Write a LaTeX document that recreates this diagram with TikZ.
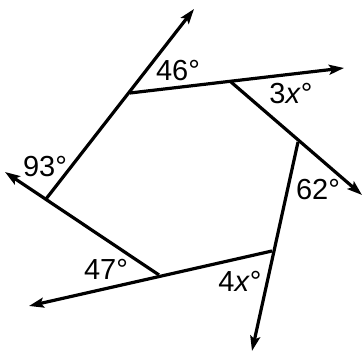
\documentclass[tikz,border=0pt]{standalone}
\usepackage{fontspec}
\setmainfont{Liberation Sans}
\usetikzlibrary{arrows.meta}
\begin{document}
\begin{tikzpicture}[x=0.5pt,y=-0.5pt,
  ray/.style={line width=1.6pt,-{Stealth[length=7.5pt,width=5pt,inset=1.5pt]}},
  lab/.style={font=\fontsize{14.5}{16}\selectfont,inner sep=0pt}]
\useasboundingbox (0,0) rectangle (364,356);
\coordinate (v1) at (130,93);
\coordinate (v2) at (231,82);
\coordinate (v3) at (298,142);
\coordinate (v4) at (272,251);
\coordinate (v5) at (159,275);
\coordinate (v6) at (46,199);
\coordinate (t1) at (194,9);
\coordinate (t2) at (344,68);
\coordinate (t3) at (362,195);
\coordinate (t4) at (252,351);
\coordinate (t5) at (29,306);
\coordinate (t6) at (5,172);
\draw[ray] (v6) -- (t1);
\draw[ray] (v1) -- (t2);
\draw[ray] (v2) -- (t3);
\draw[ray] (v3) -- (t4);
\draw[ray] (v4) -- (t5);
\draw[ray] (v5) -- (t6);
\node[lab] (l1) at (178,71) {46°};
\node[lab] (l2) at (291,94) {3\textit{x}°};
\node[lab] (l3) at (318,190) {62°};
\node[lab] (l4) at (240,281) {4\textit{x}°};
\node[lab] (l5) at (106,269) {47°};
\node[lab] (l6) at (45,167) {93°};
\end{tikzpicture}
\end{document}
